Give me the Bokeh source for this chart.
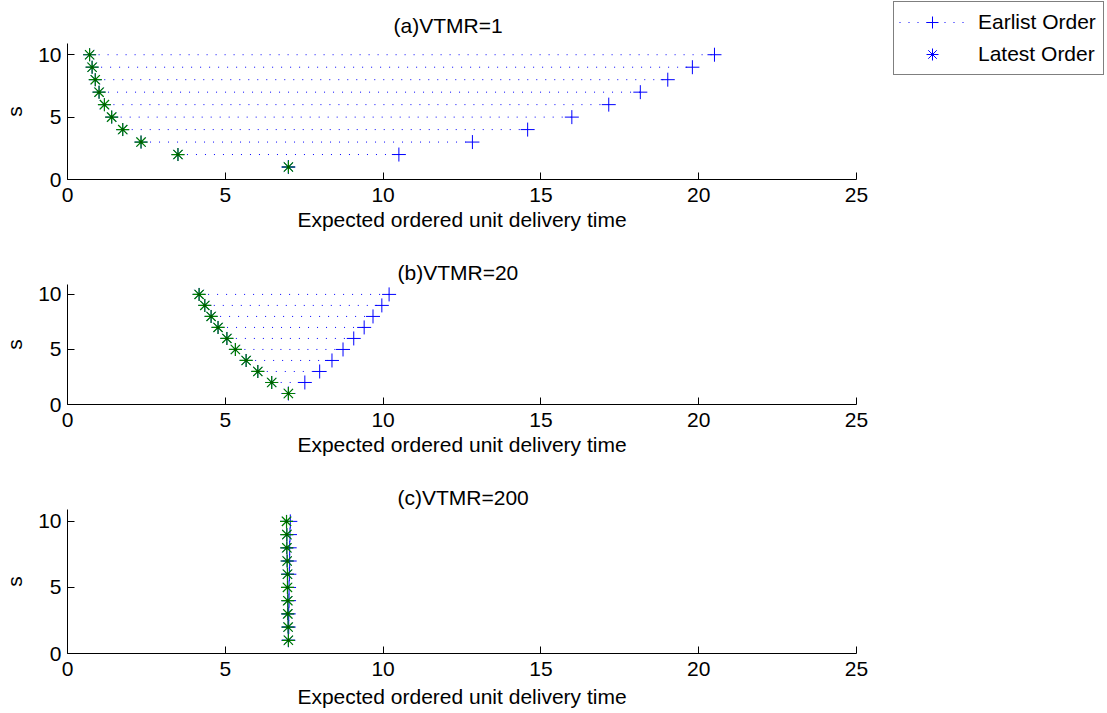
from bokeh.plotting import figure
from bokeh.models import Range1d, FixedTicker, Legend, LegendItem
from bokeh.layouts import column
from bokeh.embed import file_html
from bokeh.resources import INLINE

# ---- data ----
s_values = [1, 2, 3, 4, 5, 6, 7, 8, 9, 10]

a_earliest = [7.0, 10.5, 12.83, 14.58, 15.98, 17.15, 18.15, 19.02, 19.8, 20.5]
a_latest = [7.0, 3.5, 2.33, 1.75, 1.4, 1.17, 1.0, 0.88, 0.78, 0.7]

b_earliest = [7.0, 7.52, 7.99, 8.38, 8.73, 9.07, 9.40, 9.68, 9.96, 10.19]
b_latest = [7.0, 6.47, 6.03, 5.66, 5.32, 5.05, 4.77, 4.55, 4.35, 4.17]

c_earliest = [7.0, 7.01, 7.01, 7.02, 7.02, 7.03, 7.04, 7.04, 7.05, 7.06]
c_latest = [7.0, 6.99, 6.98, 6.98, 6.97, 6.97, 6.96, 6.95, 6.95, 6.94]

panel_titles = ["(a)VTMR=1", "(b)VTMR=20", "(c)VTMR=200"]
x_label = "Expected ordered unit delivery time"
y_label = "s"
x_ticks = [0, 5, 10, 15, 20, 25]
y_ticks = [0, 5, 10]
legend_labels = ["Earlist Order", "Latest Order"]

FONT = "Liberation Sans"
FS = "21px"
BLUE = "#0000ff"
GREEN = "#008000"


def make_panel(title, earliest, latest, top, frame_h, bottom, title_standoff, title_offset,
               xlab_standoff, right=15):
    p = figure(frame_width=789, frame_height=frame_h, output_backend="svg", toolbar_location=None,
               x_range=Range1d(0, 25), y_range=Range1d(0, 10.9),
               min_border_left=66, min_border_right=right,
               min_border_top=top, min_border_bottom=bottom)
    p.background_fill_color = "white"
    p.border_fill_color = "white"
    p.outline_line_color = None
    p.grid.visible = False

    p.title.text = title
    p.title.align = "left"
    p.title.text_font = FONT
    p.title.text_font_size = FS
    p.title.text_font_style = "normal"
    p.title.text_color = "black"
    p.title.standoff = title_standoff
    p.title.offset = title_offset

    p.xaxis.ticker = FixedTicker(ticks=x_ticks)
    p.yaxis.ticker = FixedTicker(ticks=y_ticks)
    for ax in (p.xaxis[0], p.yaxis[0]):
        ax.axis_line_color = "black"
        ax.major_tick_line_color = "black"
        ax.major_tick_in = 7
        ax.major_tick_out = 0
        ax.minor_tick_line_color = None
        ax.major_label_text_font = FONT
        ax.major_label_text_font_size = FS
        ax.major_label_text_color = "black"
        ax.axis_label_text_font = FONT
        ax.axis_label_text_font_size = FS
        ax.axis_label_text_font_style = "normal"
        ax.axis_label_text_color = "black"
    p.xaxis.major_label_standoff = 8
    p.yaxis.major_label_standoff = 6
    p.xaxis.axis_label = x_label
    p.yaxis.axis_label = y_label
    p.xaxis.axis_label_standoff = xlab_standoff
    p.yaxis.axis_label_standoff = 9

    seg = p.segment(x0=latest, y0=s_values, x1=earliest, y1=s_values,
                    line_color=BLUE, line_width=1, line_dash="1 8")
    plus = p.scatter(x=earliest, y=s_values, marker="cross", size=14,
                     line_color=BLUE, line_width=1)
    star = p.scatter(x=latest, y=s_values, marker="asterisk", size=13,
                     line_color=BLUE, line_width=1)
    p.scatter(x=latest, y=s_values, marker="asterisk", size=13,
              line_color=GREEN, line_width=1.2)
    p.scatter(x=latest, y=s_values, marker="circle", size=3,
              line_color=None, fill_color="#005a00")
    return p, seg, plus, star


pa, seg_a, plus_a, star_a = make_panel(panel_titles[0], a_earliest, a_latest, 43, 136, 58, 13, 326, 3,
                                       right=252)
pb = make_panel(panel_titles[1], b_earliest, b_latest, 47, 120, 58, 2, 330, 3)[0]
pc = make_panel(panel_titles[2], c_earliest, c_latest, 47, 144, 57, 2, 330, 6)[0]

legend = Legend(items=[LegendItem(label=legend_labels[0], renderers=[seg_a, plus_a]),
                       LegendItem(label=legend_labels[1], renderers=[star_a])])
legend.location = (37, 104)
legend.margin = 0
legend.label_text_font = FONT
legend.label_text_font_size = FS
legend.label_text_color = "black"
legend.glyph_width = 66
legend.glyph_height = 30
legend.label_height = 30
legend.label_width = 120
legend.label_standoff = 13
legend.spacing = 2
legend.padding = 5
legend.border_line_color = "black"
legend.border_line_width = 1
legend.background_fill_color = "white"
legend.background_fill_alpha = 1
pa.add_layout(legend, "right")

layout = column(pa, pb, pc)
open("out.html", "w").write(file_html(layout, INLINE))
